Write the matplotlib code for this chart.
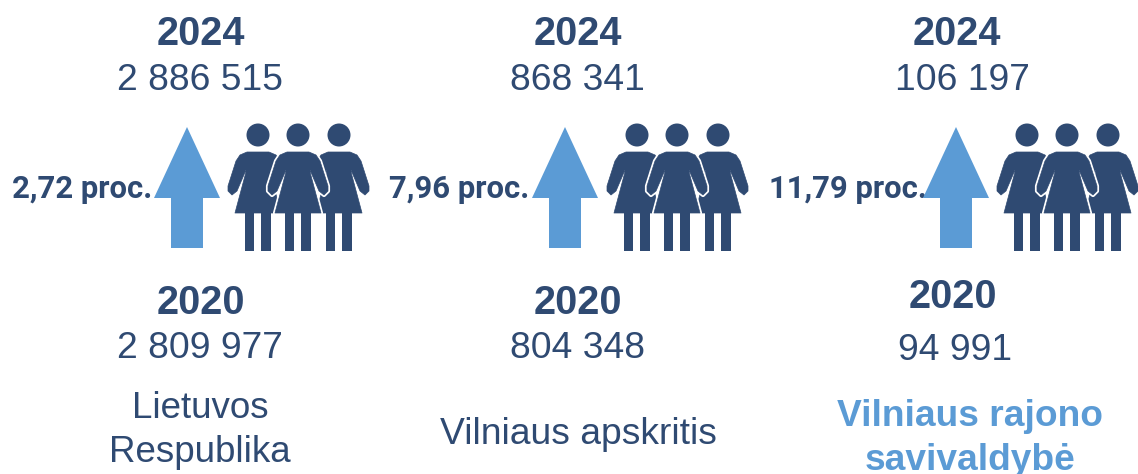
import matplotlib
matplotlib.use('Agg')
import matplotlib.pyplot as plt
from matplotlib.patches import Circle, Polygon, Rectangle

regions = [['Lietuvos', 'Respublika'], ['Vilniaus apskritis'], ['Vilniaus rajono', 'savivaldybė']]
year_new = '2024'
year_old = '2020'
values_new = ['2 886 515', '868 341', '106 197']
values_old = ['2 809 977', '804 348', '94 991']
changes = ['2,72 proc.', '7,96 proc.', '11,79 proc.']

dark = '#2f4a72'
blue = '#5b9bd5'
sans = 'Liberation Sans'

fig = plt.figure(figsize=(11.38, 4.74), dpi=100)
ax = fig.add_axes([0, 0, 1, 1])
ax.set_xlim(0, 1138)
ax.set_ylim(474, 0)
ax.axis('off')


def woman(cx, z, edge=False):
    # body in picture pixels, cx is the middle of the figure
    xs = [-11, 11, 18, 22, 30, 30, 26, 21, 12, 12, 23, -23, -12, -12, -21, -26, -30, -30, -22, -18]
    ys = [152, 152, 155, 161, 186, 191, 195, 191, 170, 172, 213, 213, 172, 170, 191, 195, 191, 186, 161, 155]
    pts = [(cx + a, b) for a, b in zip(xs, ys)]
    if edge:
        ax.add_patch(Polygon(pts, closed=True, fc=dark, ec='white', lw=3, joinstyle='round', zorder=z))
    ax.add_patch(Polygon(pts, closed=True, fc=dark, ec=dark, lw=0.5, joinstyle='round', zorder=z + 0.1))
    ax.add_patch(Circle((cx, 135), 11.5, fc=dark, ec='none', zorder=z + 0.1))
    ax.add_patch(Rectangle((cx - 13, 212), 9.5, 39, fc=dark, ec='none', zorder=z + 0.1))
    ax.add_patch(Rectangle((cx + 3.5, 212), 9.5, 39, fc=dark, ec='none', zorder=z + 0.1))


arrow_x = [187, 565, 956]
person_x = [298, 677, 1067]
new_x = [201, 578, 957]
value_new_x = [200, 577, 962]
old_x = [201, 578, 953]
value_old_x = [200, 578, 955]
old_y = [303, 303, 297]
value_old_y = [349, 349, 351]
change_x = [12, 389, 769]

for i in range(3):
    ax.text(new_x[i], 34, year_new, ha='center', va='center', family=sans, weight='bold', fontsize=28.5, color=dark)
    ax.text(value_new_x[i], 80, values_new[i], ha='center', va='center', family=sans, fontsize=26.8, color=dark)
    ax.text(old_x[i], old_y[i], year_old, ha='center', va='center', family=sans, weight='bold', fontsize=28.5, color=dark)
    ax.text(value_old_x[i], value_old_y[i], values_old[i], ha='center', va='center', family=sans, fontsize=26.8, color=dark)
    ax.text(change_x[i], 189, changes[i], ha='left', va='center', family='Roboto', weight='bold', fontsize=22.4, color=dark)

    a = arrow_x[i]
    ax.add_patch(Polygon([(a, 127), (a + 33, 198), (a + 16, 198), (a + 16, 248), (a - 16, 248), (a - 16, 198), (a - 33, 198)],
                         closed=True, fc=blue, ec='none', zorder=4))

    p = person_x[i]
    woman(p - 40, 2)
    woman(p + 41, 2)
    woman(p, 3, edge=True)

ax.text(200, 408, regions[0][0], ha='center', va='center', family=sans, fontsize=26.5, color=dark)
ax.text(200, 453, regions[0][1], ha='center', va='center', family=sans, fontsize=26.5, color=dark)
ax.text(578, 435, regions[1][0], ha='center', va='center', family=sans, fontsize=26.8, color=dark)
ax.text(970, 416, regions[2][0], ha='center', va='center', family=sans, weight='bold', fontsize=26.7, color=blue)
ax.text(970, 461, regions[2][1], ha='center', va='center', family=sans, weight='bold', fontsize=26.7, color=blue)

fig.savefig('out.png', dpi=100)
